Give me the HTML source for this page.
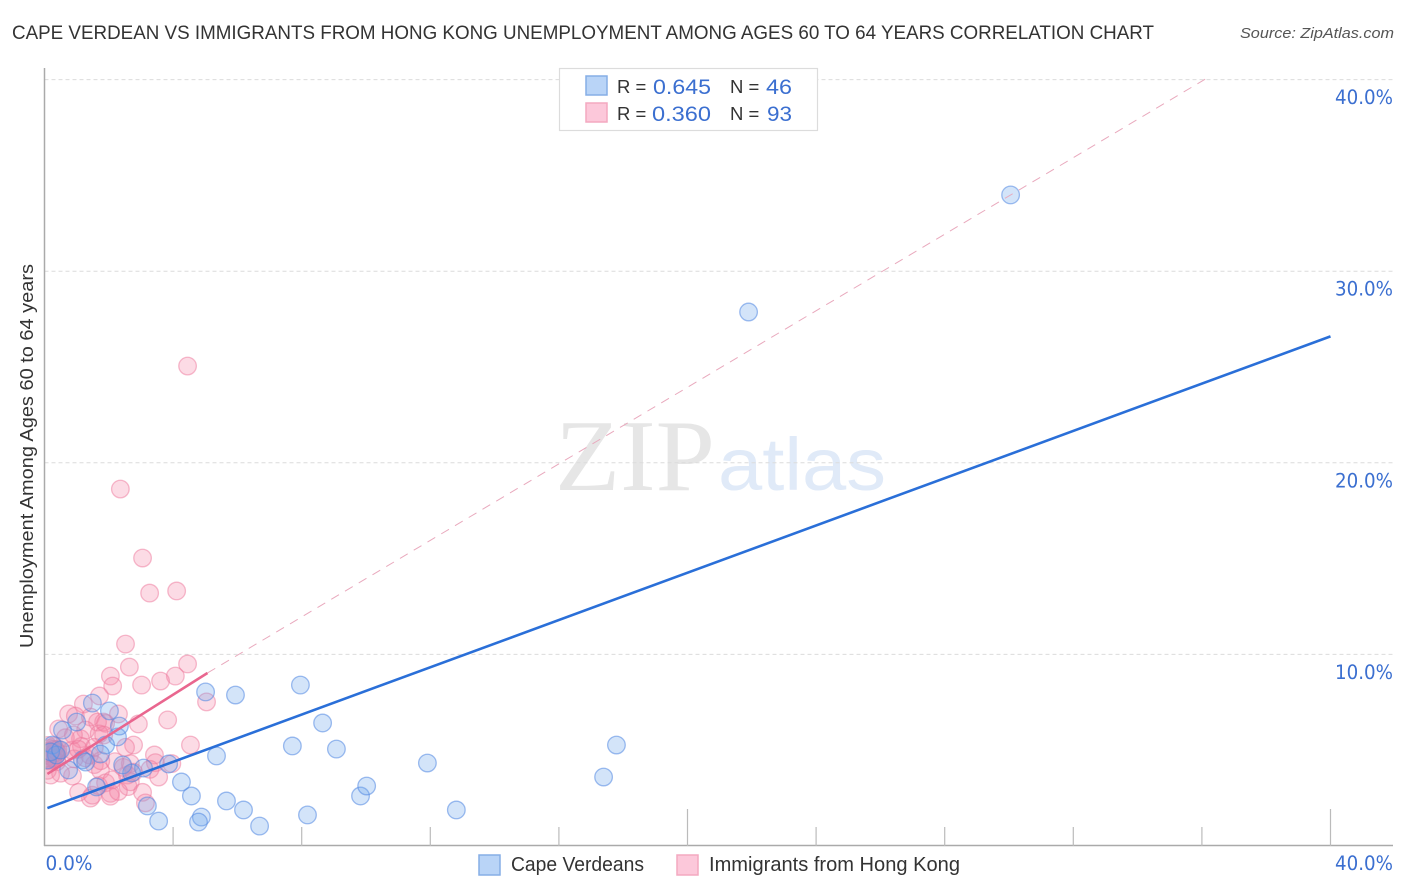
<!DOCTYPE html>
<html>
<head>
<meta charset="utf-8">
<title>Cape Verdean vs Immigrants from Hong Kong Correlation Chart</title>
<style>
html,body{margin:0;padding:0;background:#fff;}
svg{display:block;font-family:"Liberation Sans",sans-serif;}
</style>
</head>
<body>
<svg id="chart" width="1406" height="892" viewBox="0 0 1406 892" xmlns="http://www.w3.org/2000/svg">
  <defs>
    <clipPath id="plot-clip"><rect x="45.5" y="60" width="1350" height="786"/></clipPath>
  </defs>
  <text x="12" y="39" font-size="19.5" fill="#333" textLength="1142" lengthAdjust="spacingAndGlyphs">CAPE VERDEAN VS IMMIGRANTS FROM HONG KONG UNEMPLOYMENT AMONG AGES 60 TO 64 YEARS CORRELATION CHART</text>
  <text x="1394" y="38" font-size="15" font-style="italic" fill="#555" text-anchor="end" textLength="154" lengthAdjust="spacingAndGlyphs">Source: ZipAtlas.com</text>

  <g id="watermark">
    <text x="555" y="490" font-size="102" font-family="'Liberation Serif',serif" fill="#e6e6e6" textLength="160" lengthAdjust="spacingAndGlyphs">ZIP</text>
    <text x="718" y="490" font-size="74" fill="#e0eaf8" textLength="168" lengthAdjust="spacingAndGlyphs">atlas</text>
  </g>

  <g id="grid"></g>
  <g id="axes"></g>
  <g id="points" clip-path="url(#plot-clip)"></g>
  <g id="trends" clip-path="url(#plot-clip)"></g>
  <g id="labels"></g>

  <text transform="translate(33,456) rotate(-90)" font-size="18.5" fill="#333" text-anchor="middle" textLength="384" lengthAdjust="spacingAndGlyphs">Unemployment Among Ages 60 to 64 years</text>

  <g>
    <rect x="559.5" y="68.5" width="258" height="62" fill="#fff" stroke="#dcdcdc" stroke-width="1.2"/>
    <rect x="586" y="76" width="21" height="19" fill="#b9d4f7" stroke="#86aee6" stroke-width="1.5"/>
    <rect x="586" y="103" width="21" height="19" fill="#fcc8da" stroke="#f4a9c0" stroke-width="1.5"/>
    <text x="617" y="93" font-size="18.5" fill="#333">R =</text>
    <text x="653" y="94" font-size="21" fill="#3b6fd0" textLength="58" lengthAdjust="spacingAndGlyphs">0.645</text>
    <text x="730" y="93" font-size="18.5" fill="#333">N =</text>
    <text x="766" y="94" font-size="21" fill="#3b6fd0" textLength="26" lengthAdjust="spacingAndGlyphs">46</text>
    <text x="617" y="120" font-size="18.5" fill="#333">R =</text>
    <text x="652" y="121" font-size="21" fill="#3b6fd0" textLength="59" lengthAdjust="spacingAndGlyphs">0.360</text>
    <text x="730" y="120" font-size="18.5" fill="#333">N =</text>
    <text x="767" y="121" font-size="21" fill="#3b6fd0" textLength="25" lengthAdjust="spacingAndGlyphs">93</text>
  </g>

  <g>
    <rect x="479" y="855" width="21" height="20" fill="#b9d4f7" stroke="#86aee6" stroke-width="1.5"/>
    <text x="511" y="871" font-size="20" fill="#333" textLength="133" lengthAdjust="spacingAndGlyphs">Cape Verdeans</text>
    <rect x="677" y="855" width="21" height="20" fill="#fcc8da" stroke="#f4a9c0" stroke-width="1.5"/>
    <text x="709" y="871" font-size="20" fill="#333" textLength="251" lengthAdjust="spacingAndGlyphs">Immigrants from Hong Kong</text>
  </g>
</svg>
<script>
const yGridValues = [10, 20, 30, 40];
const yTickLabels = ["10.0%", "20.0%", "30.0%", "40.0%"];
const xTickValues = [4, 8, 12, 16, 20, 24, 28, 32, 36, 40];
const xMajorTicks = [20, 40];
const xEndValues = [0, 40];
const xEndLabels = ["0.0%", "40.0%"];

const capeX = [30.05,21.90,5.01,5.94,7.96,8.65,7.71,9.08,11.91,17.79,17.39,5.35,9.83,10.02,12.81,8.18,6.69,6.19,5.66,4.88,4.79,3.55,3.20,4.57,4.26,3.86,3.08,2.71,2.43,2.27,2.33,2.02,1.49,1.00,0.56,1.90,1.74,1.18,0.75,1.62,0.09,0.25,0.37,0.19,0.50,1.28];
const capeY = [33.98,27.87,8.04,7.88,8.40,6.42,5.22,5.06,4.33,5.27,3.60,4.70,2.61,3.13,1.88,1.62,1.04,1.88,2.35,1.51,1.25,1.30,2.09,2.61,3.34,4.28,4.07,3.81,4.23,5.69,6.26,7.05,7.46,6.47,6.05,5.27,4.80,4.49,3.97,3.08,4.49,5.27,4.75,4.91,5.01,4.38];

const hongKongX = [4.45,2.36,3.05,3.27,4.11,2.52,4.45,2.64,2.05,4.07,3.61,3.02,2.12,5.04,1.71,1.21,0.75,0.96,1.43,3.83,2.92,2.30,1.84,1.65,0.44,1.28,1.90,1.70,4.54,2.77,1.84,1.12,2.52,3.42,0.40,0.30,0.16,0.22,0.08,0.12,0.34,0.42,0.36,0.10,0.25,0.18,0.06,0.28,0.38,0.14,0.20,0.32,0.85,0.15,1.15,0.26,1.40,1.55,0.92,0.35,3.45,3.96,3.28,2.19,2.67,1.74,0.87,1.27,3.55,2.58,2.77,1.90,2.05,2.60,2.67,1.06,1.43,1.49,2.05,3.05,3.14,1.68,0.50,0.09,0.19,2.30,2.10,1.75,1.55,1.05,0.65,0.90,2.45];
const hongKongY = [25.05,18.63,15.03,13.20,13.31,10.54,9.50,9.34,8.87,8.87,8.61,8.40,8.35,7.52,7.83,7.41,6.89,6.78,6.73,6.58,6.37,6.89,6.47,6.47,6.11,6.05,6.40,5.85,5.27,5.27,5.79,5.60,5.15,4.75,4.90,5.20,5.10,4.90,4.75,4.45,4.65,5.05,4.75,5.25,4.55,4.50,4.60,5.05,4.40,4.85,4.70,4.85,5.00,4.95,5.20,4.60,4.75,4.25,4.55,5.00,4.35,4.30,4.00,4.40,4.30,3.95,3.65,4.60,3.60,3.70,3.85,3.30,2.75,3.10,3.35,2.80,2.50,2.65,2.60,2.80,2.25,3.15,3.80,3.95,3.70,2.85,3.45,4.45,5.15,5.05,5.65,5.80,4.10];

const capeTrendX = [0.09, 40];
const capeTrendY = [1.98, 26.6];
const hongKongTrendX = [0.09, 5.07];
const hongKongTrendY = [3.76, 9.03];
const identityX = [5.07, 36.11];
const identityY = [9.03, 40.03];

const SVG_NS = "http://www.w3.org/2000/svg";
function xScale(v) { return 44.5 + v * 32.15; }
function yScale(v) { return 846 - v * 19.16; }
function make(tag, attrs, parent) {
  const el = document.createElementNS(SVG_NS, tag);
  for (const k in attrs) el.setAttribute(k, attrs[k]);
  parent.appendChild(el);
  return el;
}

const gridG = document.getElementById("grid");
const axesG = document.getElementById("axes");
const pointsG = document.getElementById("points");
const trendsG = document.getElementById("trends");
const labelsG = document.getElementById("labels");

yGridValues.forEach(function (v, i) {
  const line = make("line", {x1: 44.5, x2: 1393, y1: yScale(v), y2: yScale(v), stroke: "#dcdcdc", "stroke-width": 1, "stroke-dasharray": "4 3"}, gridG);
  
  
  const label = make("text", {x: 1393, y: yScale(v) + 24.5, "font-size": 19.5, fill: "#3b6fd0", "text-anchor": "end", "font-family": "'DejaVu Sans',sans-serif", textLength: 58, lengthAdjust: "spacingAndGlyphs"}, labelsG);
  label.textContent = yTickLabels[i];
  
  
});

const yAxis = make("line", {x1: 44.5, x2: 44.5, y1: 68, y2: 846, stroke: "#aaa", "stroke-width": 1.5}, axesG);


const xAxis = make("line", {x1: 44, x2: 1393, y1: 845.5, y2: 845.5, stroke: "#aaa", "stroke-width": 1.5}, axesG);



xTickValues.forEach(function (v) {
  const top = xMajorTicks.indexOf(v) >= 0 ? 809 : 827;
  const tick = make("line", {x1: xScale(v), x2: xScale(v), y1: top, y2: 846, stroke: "#bbb", "stroke-width": 1.2}, axesG);
  
  
});

xEndValues.forEach(function (v, i) {
  const isFirst = i === 0;
  const label = make("text", {x: isFirst ? xScale(v) + 1 : 1393, y: 870, "font-size": 19.5, fill: "#3b6fd0", "text-anchor": isFirst ? "start" : "end", "font-family": "'DejaVu Sans',sans-serif", textLength: isFirst ? 47 : 58, lengthAdjust: "spacingAndGlyphs"}, labelsG);
  label.textContent = xEndLabels[i];
  
  
});

hongKongX.forEach(function (v, i) {
  const c = make("circle", {cx: xScale(v), cy: yScale(hongKongY[i]), r: 8.8, fill: "rgba(246,135,168,0.3)", stroke: "rgba(238,120,155,0.5)", "stroke-width": 1.3}, pointsG);
  
  
});

capeX.forEach(function (v, i) {
  const c = make("circle", {cx: xScale(v), cy: yScale(capeY[i]), r: 8.8, fill: "rgba(110,165,235,0.3)", stroke: "rgba(80,135,225,0.55)", "stroke-width": 1.3}, pointsG);
  
  
});

const identityLine = make("line", {x1: xScale(identityX[0]), y1: yScale(identityY[0]), x2: xScale(identityX[1]), y2: yScale(identityY[1]), stroke: "#e9a9bd", "stroke-width": 1, "stroke-dasharray": "9 7"}, trendsG);



const hongKongTrend = make("line", {x1: xScale(hongKongTrendX[0]), y1: yScale(hongKongTrendY[0]), x2: xScale(hongKongTrendX[1]), y2: yScale(hongKongTrendY[1]), stroke: "#e9668f", "stroke-width": 2.6}, trendsG);



const capeTrend = make("line", {x1: xScale(capeTrendX[0]), y1: yScale(capeTrendY[0]), x2: xScale(capeTrendX[1]), y2: yScale(capeTrendY[1]), stroke: "#2a6fd8", "stroke-width": 2.6}, trendsG);


</script>
</body>
</html>
